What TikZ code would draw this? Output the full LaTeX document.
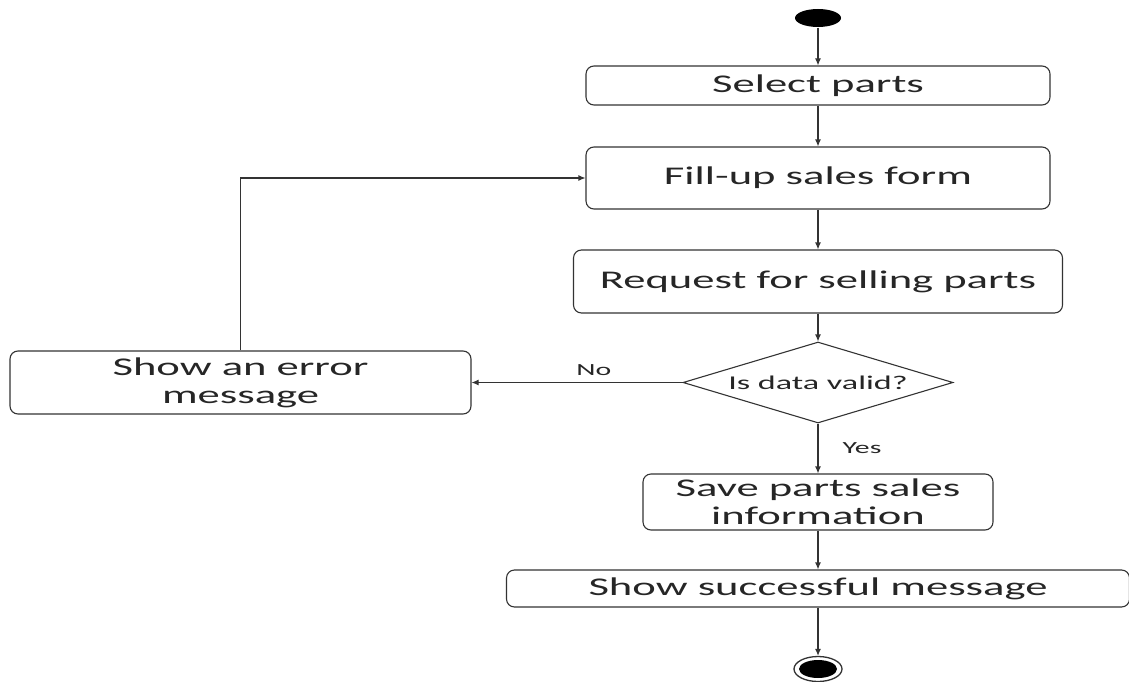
\documentclass[tikz,border=0pt]{standalone}
\usepackage{fontspec}
\setmainfont{Carlito}[FakeStretch=1.75]
\usetikzlibrary{shapes.geometric,arrows.meta}

\begin{document}
\begin{tikzpicture}[x=1pt, y=-1pt, line width=1.1pt,
    every node/.style={inner sep=0pt, text=black!85},
    act/.style={draw=black!80, rounded corners=8pt, align=center,
      font=\fontsize{25.5}{28}\selectfont},
    cond/.style={draw=black!80, diamond, aspect=3.33, font=\fontsize{19.5}{21}\selectfont},
    lbl/.style={font=\fontsize{17}{19}\selectfont},
    arr/.style={draw=black!80, -{Latex[length=7pt,width=6pt]}}]
  \useasboundingbox (0,0) rectangle (1129,682);

  % Start and end points
  \node[ellipse, fill=black, minimum width=46pt, minimum height=18pt] (start) at (818,18) {};
  \node[ellipse, draw=black!80, line width=1.3pt, minimum width=48pt, minimum height=25pt,
    path picture={\fill[black] (path picture bounding box.center) ellipse (19pt and 9pt);}]
    (stop) at (818,669) {};

  % Activities
  \node[act, minimum width=464pt, minimum height=39pt] (sel) at (818,85.5) {Select parts};
  \node[act, minimum width=464pt, minimum height=62pt] (fill) at (818,178) {Fill-up sales form};
  \node[act, minimum width=489pt, minimum height=63pt] (req) at (818,281.5) {Request for selling parts};
  \node[cond, minimum width=270pt, minimum height=81pt] (dec) at (818,382.5) {Is data valid?};
  \node[act, minimum width=461pt, minimum height=63pt] (err) at (240.5,382.5) {Show an error\\message};
  \node[act, minimum width=350pt, minimum height=56pt] (save) at (818,502) {Save parts sales\\information};
  \node[act, minimum width=623pt, minimum height=37pt] (succ) at (818,588.5) {Show successful message};

  % Flow
  \foreach \a/\b in {start/sel, sel/fill, fill/req, req/dec, save/succ, succ/stop}
    \draw[arr] (\a) -- (\b);
  \draw[arr] (dec) -- node[lbl, pos=0.5, right=24pt] {Yes} (save);
  \draw[arr] (dec.west) -- node[lbl, pos=0.42, above=6pt] {No} (err.east);
  \draw[arr] (err.north) |- (fill.west);
\end{tikzpicture}
\end{document}
